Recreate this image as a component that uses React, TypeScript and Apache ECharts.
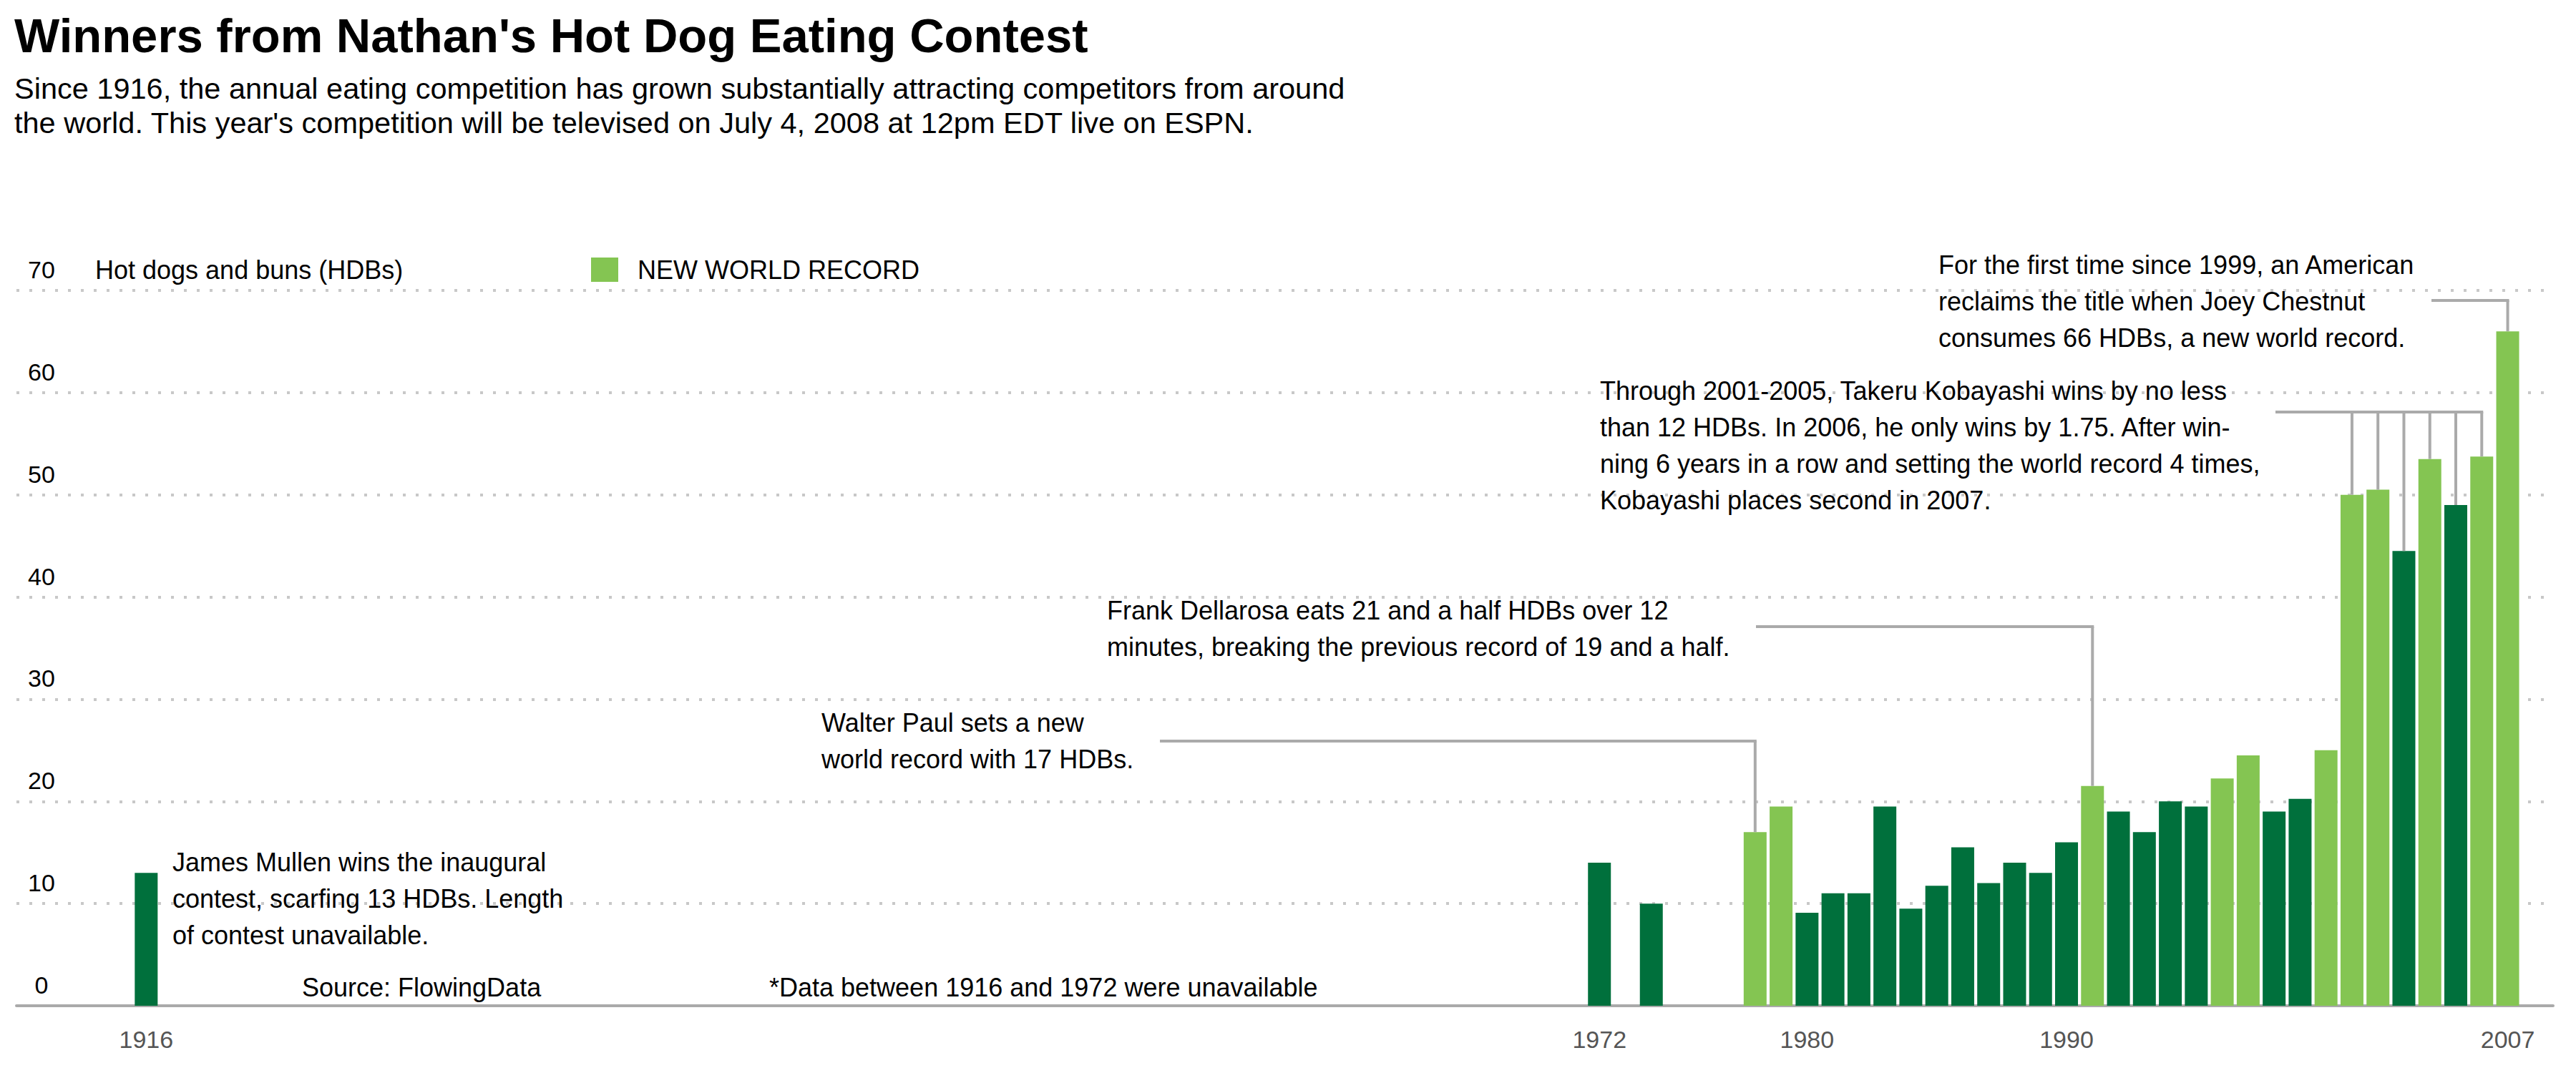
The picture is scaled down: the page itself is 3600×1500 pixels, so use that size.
import React, { useEffect, useRef } from 'react';
import * as echarts from 'echarts';

// ---------- data ----------
const years = [
  1916, 1972, 1974, 1978, 1979, 1980, 1981, 1982, 1983, 1984, 1985, 1986, 1987,
  1988, 1989, 1990, 1991, 1992, 1993, 1994, 1995, 1996, 1997, 1998, 1999, 2000,
  2001, 2002, 2003, 2004, 2005, 2006, 2007,
];
const hdbs = [
  13, 14, 10, 17, 19.5, 9.1, 11, 11, 19.5, 9.5, 11.75, 15.5, 12,
  14, 13, 16, 21.5, 19, 17, 20, 19.5, 22.25, 24.5, 19, 20.25, 25,
  50, 50.5, 44.5, 53.5, 49, 53.75, 66,
];
const newRecord = [
  0, 0, 0, 1, 1, 0, 0, 0, 0, 0, 0, 0, 0,
  0, 0, 0, 1, 0, 0, 0, 0, 1, 1, 0, 0, 1,
  1, 1, 0, 1, 0, 1, 1,
];
const xTickLabels = [1916, 1972, 1980, 1990, 2007];
const yMax = 70;
const yInterval = 10;

const titleText = "Winners from Nathan's Hot Dog Eating Contest";
const subtitleText =
  "Since 1916, the annual eating competition has grown substantially attracting competitors from around\nthe world. This year's competition will be televised on July 4, 2008 at 12pm EDT live on ESPN.";
const yAxisTitle = 'Hot dogs and buns (HDBs)';
const legendName = 'NEW WORLD RECORD';
const sourceText = 'Source: FlowingData';
const gapNote = '*Data between 1916 and 1972 were unavailable';

const noteMullen = [
  'James Mullen wins the inaugural',
  'contest, scarfing 13 HDBs. Length',
  'of contest unavailable.',
];
const notePaul = ['Walter Paul sets a new', 'world record with 17 HDBs.'];
const noteDellarosa = [
  'Frank Dellarosa eats 21 and a half HDBs over 12',
  'minutes, breaking the previous record of 19 and a half.',
];
const noteKobayashi = [
  'Through 2001-2005, Takeru Kobayashi wins by no less',
  'than 12 HDBs. In 2006, he only wins by 1.75. After win-',
  'ning 6 years in a row and setting the world record 4 times,',
  'Kobayashi places second in 2007.',
];
const noteChestnut = [
  'For the first time since 1999, an American',
  'reclaims the title when Joey Chestnut',
  'consumes 66 HDBs, a new world record.',
];
const paulYears = [1978];
const dellarosaYears = [1991];
const kobayashiYears = [2001, 2002, 2003, 2004, 2005, 2006];
const chestnutYears = [2007];

// ---------- style ----------
const FONT = "'Liberation Sans', Arial, Helvetica, sans-serif";
const DARK = '#00703C';
const LIGHT = '#84C552';
const LEADER = '#aaaaaa';
const TEXT_SIZE = 36;
const LINE_H = 51;

export default function App() {
  const ref = useRef<HTMLDivElement>(null);

  useEffect(() => {
    if (!ref.current) return;
    const chart = echarts.init(ref.current, null, { renderer: 'svg' });

    const darkData: number[][] = [];
    const lightData: number[][] = [];
    years.forEach((y, i) => {
      (newRecord[i] ? lightData : darkData).push([y, hdbs[i]]);
    });

    chart.setOption({
      animation: false,
      textStyle: { fontFamily: FONT },
      title: {
        text: titleText,
        subtext: subtitleText,
        left: 20,
        top: 16,
        itemGap: 16,
        padding: 0,
        textStyle: { fontSize: 67, fontWeight: 'bold', color: '#000', fontFamily: FONT },
        subtextStyle: { fontSize: 41.5, lineHeight: 48, color: '#000', fontFamily: FONT },
      },
      legend: {
        left: 826,
        top: 359,
        padding: 0,
        data: [{ name: legendName, icon: 'rect' }],
        itemWidth: 38,
        itemHeight: 34,
        selectedMode: false,
        textStyle: { fontSize: TEXT_SIZE, color: '#000', fontFamily: FONT, padding: [0, 0, 0, 22] },
      },
      grid: { left: 23, right: 32, top: 406, bottom: 94 },
      xAxis: {
        type: 'value',
        min: 1911,
        max: 2008.75,
        axisLine: { show: true, onZero: false, lineStyle: { color: '#aaaaaa', width: 4 } },
        axisTick: { show: false },
        splitLine: { show: false },
        axisLabel: {
          customValues: xTickLabels,
          formatter: (v: number) => String(v),
          fontSize: 34,
          color: '#555',
          margin: 30,
          fontFamily: FONT,
        },
      },
      yAxis: {
        type: 'value',
        min: 0,
        max: yMax,
        interval: yInterval,
        axisLine: { show: false },
        axisTick: { show: false },
        splitLine: { show: true, lineStyle: { color: '#c8c8c8', width: 4, type: [4, 14] } },
        axisLabel: {
          inside: true,
          align: 'center',
          verticalAlign: 'bottom',
          margin: 35,
          lineHeight: 34,
          padding: [0, 0, 12, 0],
          fontSize: 34,
          color: '#000',
          fontFamily: FONT,
        },
      },
      series: [
        {
          name: 'Winner',
          type: 'bar',
          data: darkData,
          barWidth: 32,
          barGap: '-100%',
          itemStyle: { color: DARK },
        },
        {
          name: legendName,
          type: 'bar',
          data: lightData,
          barWidth: 32,
          barGap: '-100%',
          itemStyle: { color: LIGHT },
        },
      ],
    });

    const valueOf = (yr: number) => hdbs[years.indexOf(yr)];
    const px = (yr: number, v: number) => chart.convertToPixel({ gridIndex: 0 }, [yr, v]) as number[];

    const textEl = (lines: string[] | string, x: number, top: number) => ({
      type: 'text',
      x,
      y: top,
      z: 10,
      style: {
        text: Array.isArray(lines) ? lines.join('\n') : lines,
        fontSize: TEXT_SIZE,
        fontFamily: FONT,
        fill: '#000',
        lineHeight: LINE_H,
        align: 'left',
        verticalAlign: 'top',
      },
    });

    const leader = (fromX: number, y: number, yrs: number[]) => {
      const els: any[] = [];
      const lastX = px(yrs[yrs.length - 1], 0)[0];
      els.push({
        type: 'line',
        z: 5,
        shape: { x1: fromX, y1: y, x2: lastX + 2, y2: y },
        style: { stroke: LEADER, lineWidth: 4 },
      });
      yrs.forEach((yr) => {
        const p = px(yr, valueOf(yr));
        els.push({
          type: 'line',
          z: 5,
          shape: { x1: p[0], y1: y, x2: p[0], y2: p[1] },
          style: { stroke: LEADER, lineWidth: 4 },
        });
      });
      return els;
    };

    const graphics: any[] = [
      {
        type: 'text',
        x: 133,
        y: 377,
        style: {
          text: yAxisTitle,
          fontSize: TEXT_SIZE,
          fontFamily: FONT,
          fill: '#000',
          align: 'left',
          verticalAlign: 'middle',
        },
      },
      textEl(noteMullen, 241, 1180),
      textEl(notePaul, 1148, 985),
      textEl(noteDellarosa, 1547, 828),
      textEl(noteKobayashi, 2236, 521),
      textEl(noteChestnut, 2709, 345),
      textEl(sourceText, 422, 1355),
      textEl(gapNote, 1075, 1355),
      ...leader(1621, 1036, paulYears),
      ...leader(2454, 876, dellarosaYears),
      ...leader(3180, 576, kobayashiYears),
      ...leader(3398, 420, chestnutYears),
    ];

    chart.setOption({ graphic: graphics });

    return () => chart.dispose();
  }, []);

  return (
    <div
      ref={ref}
      style={{ position: 'fixed', left: 0, top: 0, width: 3600, height: 1500, background: '#fff' }}
    />
  );
}
